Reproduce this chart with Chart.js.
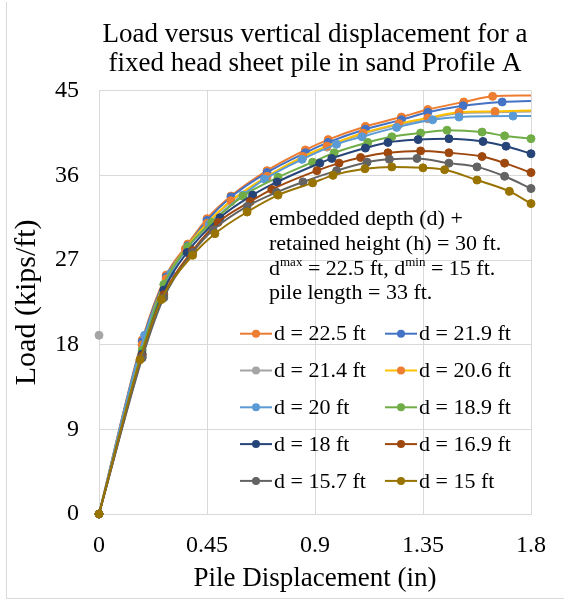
<!DOCTYPE html>
<html>
<head>
<meta charset="utf-8">
<script src="https://cdn.jsdelivr.net/npm/chart.js@4/dist/chart.umd.min.js"></script>
<style>
    body { margin: 0; background: #fff; }
    #wrap { position: relative; width: 564px; height: 604px; overflow: hidden; }
    #frame { position: absolute; left: 6px; top: 2px; width: 600px; height: 596px;
             border-left: 1px solid #D9D9D9; border-bottom: 1px solid #D9D9D9; }
    canvas { position: absolute; left: 0; top: 0; }
</style>
</head>
<body>
<div id="wrap">
    <div id="frame"></div>
    <canvas id="chart" width="564" height="604"></canvas>
</div>
<script>
// Chart data
const seriesLabels = ['d = 22.5 ft', 'd = 21.9 ft', 'd = 21.4 ft', 'd = 20.6 ft', 'd = 20 ft',
                      'd = 18.9 ft', 'd = 18 ft', 'd = 16.9 ft', 'd = 15.7 ft', 'd = 15 ft'];

const x_22_5 = [0, 0.18, 0.28, 0.37, 0.45, 0.55, 0.70, 0.86, 0.955, 1.11, 1.26, 1.37, 1.52, 1.64, 1.8];
const y_22_5 = [0, 18.5, 25.4, 28.7, 31.4, 33.8, 36.5, 38.7, 39.8, 41.2, 42.2, 43.0, 43.8, 44.4, 44.5];

const x_21_9 = [0, 0.18, 0.28, 0.37, 0.45, 0.55, 0.70, 0.86, 0.955, 1.11, 1.26, 1.37, 1.517, 1.68, 1.8];
const y_21_9 = [0, 18.3, 25.2, 28.5, 31.2, 33.7, 36.3, 38.4, 39.5, 40.9, 41.9, 42.7, 43.4, 43.8, 43.9];

const x_21_4 = [0, 0.09, 0.18, 0.28, 0.36, 0.45, 0.55, 0.70, 0.85, 0.95, 1.10, 1.25, 1.37, 1.50, 1.65, 1.8];
const y_21_4 = [19, null, 17.9, 24.9, 28.1, 30.8, 33.2, 35.8, 37.9, 39.0, 40.4, 41.4, 42.0, 42.6, 42.7, 42.8];

const x_20_6 = [0, 0.18, 0.28, 0.36, 0.45, 0.55, 0.70, 0.85, 0.95, 1.10, 1.25, 1.37, 1.50, 1.65, 1.8];
const y_20_6 = [0, 18.0, 25.0, 28.2, 30.9, 33.3, 35.9, 38.0, 39.1, 40.5, 41.5, 42.1, 42.7, 42.8, 42.9];

const x_20 = [0, 0.19, 0.30, 0.37, 0.46, 0.60, 0.69, 0.846, 0.99, 1.096, 1.24, 1.39, 1.50, 1.725, 1.8];
const y_20 = [0, 19.0, 25.6, 28.3, 30.8, 33.9, 35.6, 37.7, 39.3, 40.1, 41.1, 41.9, 42.2, 42.3, 42.3];

const x_18_9 = [0, 0.18, 0.27, 0.37, 0.47, 0.60, 0.746, 0.89, 0.98, 1.12, 1.22, 1.34, 1.45, 1.596, 1.69, 1.8];
const y_18_9 = [0, 17.4, 24.4, 28.4, 31.0, 33.8, 35.8, 37.4, 38.4, 39.5, 40.1, 40.5, 40.8, 40.6, 40.2, 39.9];

const x_18 = [0, 0.18, 0.27, 0.367, 0.504, 0.64, 0.742, 0.92, 0.97, 1.11, 1.204, 1.33, 1.458, 1.6, 1.696, 1.8];
const y_18 = [0, 17.0, 23.8, 27.8, 31.5, 33.9, 35.3, 37.3, 37.8, 38.9, 39.5, 39.8, 39.9, 39.6, 39.1, 38.3];

const x_16_9 = [0, 0.18, 0.27, 0.39, 0.496, 0.63, 0.72, 0.908, 1.0, 1.09, 1.204, 1.34, 1.458, 1.596, 1.69, 1.8];
const y_16_9 = [0, 16.8, 23.3, 28.0, 31.0, 33.2, 34.5, 36.5, 37.3, 37.9, 38.4, 38.6, 38.4, 38.0, 37.3, 36.3];

const x_15_7 = [0, 0.18, 0.27, 0.39, 0.475, 0.617, 0.74, 0.85, 0.99, 1.117, 1.21, 1.325, 1.458, 1.575, 1.69, 1.8];
const y_15_7 = [0, 16.6, 23.0, 27.8, 30.2, 32.7, 34.2, 35.3, 36.5, 37.4, 37.7, 37.8, 37.3, 36.9, 35.9, 34.6];

const x_15 = [0, 0.171, 0.26, 0.39, 0.483, 0.617, 0.746, 0.89, 0.975, 1.108, 1.22, 1.35, 1.44, 1.575, 1.71, 1.8];
const y_15 = [0, 16.4, 22.8, 27.5, 29.8, 32.1, 33.9, 35.2, 36.0, 36.7, 36.9, 36.8, 36.6, 35.5, 34.3, 33.0];

const xTicks = [0, 0.45, 0.9, 1.35, 1.8];
const yTicks = [0, 9, 18, 27, 36, 45];

const xSeries = [x_22_5, x_21_9, x_21_4, x_20_6, x_20, x_18_9, x_18, x_16_9, x_15_7, x_15];
const ySeries = [y_22_5, y_21_9, y_21_4, y_20_6, y_20, y_18_9, y_18, y_16_9, y_15_7, y_15];

// Styles
const lineColors = ['#ED7D31', '#4472C4', '#A5A5A5', '#FFC000', '#5B9BD5',
                    '#70AD47', '#264478', '#9E480E', '#636363', '#997300'];
const markerColors = ['#ED7D31', '#4472C4', '#A5A5A5', '#ED7D31', '#5B9BD5',
                      '#70AD47', '#264478', '#9E480E', '#636363', '#997300'];
// series whose curve runs on past the axis end (no marker at the right edge)
const openEnd = [true, true, true, true, true, false, false, false, false, false];
const FONT = "'Liberation Serif', 'Times New Roman', serif";

const datasets = seriesLabels.map((label, i) => ({
    label: label,
    data: xSeries[i].map((x, j) => ({ x: x, y: ySeries[i][j] })),
    borderColor: lineColors[i],
    backgroundColor: markerColors[i],
    pointBackgroundColor: markerColors[i],
    pointBorderColor: markerColors[i],
    borderWidth: 2,
    pointRadius: (ctx) => (openEnd[i] && ctx.dataIndex === xSeries[i].length - 1) ? 0 : 4,
    pointBorderWidth: 1,
    cubicInterpolationMode: 'monotone',
    spanGaps: false,
    clip: false,
    order: seriesLabels.length - i   // later series drawn on top, like Excel
}));

// Annotation text + legend drawn inside the plot area
const notesPlugin = {
    id: 'notes',
    afterDraw(chart) {
        const ctx = chart.ctx;
        const area = chart.chartArea;
        ctx.save();
        ctx.fillStyle = '#000';
        ctx.textBaseline = 'alphabetic';
        ctx.textAlign = 'left';
        const big = '22px ' + FONT;
        const small = '13px ' + FONT;
        const tx = area.left + 170;
        ctx.font = big;
        ctx.fillText('embedded depth (d) +', tx, area.top + 134);
        ctx.fillText('retained height (h) = 30 ft.', tx, area.top + 159);
        // d^max = 22.5 ft, d^min = 15 ft.
        let x = tx;
        const y3 = area.top + 184;
        const parts = [['d', big, 0], ['max', small, -9], [' = 22.5 ft, d', big, 0], ['min', small, -9], [' = 15 ft.', big, 0]];
        parts.forEach(([t, f, dy]) => {
            ctx.font = f;
            ctx.fillText(t, x, y3 + dy);
            x += ctx.measureText(t).width;
        });
        ctx.font = big;
        ctx.fillText('pile length = 33 ft.', tx, area.top + 208);

        // legend, two columns
        ctx.textBaseline = 'middle';
        chart.data.datasets.forEach((ds, i) => {
            const col = i % 2;
            const row = Math.floor(i / 2);
            const lx = area.left + 141 + col * 145;
            const ly = area.top + 243 + row * 36.8;
            ctx.strokeStyle = ds.borderColor;
            ctx.lineWidth = 2;
            ctx.beginPath();
            ctx.moveTo(lx, ly);
            ctx.lineTo(lx + 32, ly);
            ctx.stroke();
            ctx.fillStyle = ds.pointBackgroundColor;
            ctx.beginPath();
            ctx.arc(lx + 16, ly, 4, 0, Math.PI * 2);
            ctx.fill();
            ctx.fillStyle = '#000';
            ctx.font = big;
            ctx.fillText(ds.label, lx + 34, ly + 1);
        });
        ctx.restore();
    }
};

new Chart(document.getElementById('chart'), {
    type: 'line',
    data: { datasets: datasets },
    plugins: [notesPlugin],
    options: {
        responsive: false,
        animation: false,
        layout: { padding: { left: 0, right: 33, top: 0, bottom: 0 } },
        plugins: {
            legend: { display: false },
            tooltip: { enabled: false },
            title: {
                display: true,
                fullSize: false,
                text: ['Load versus vertical displacement for a', 'fixed head sheet pile in sand Profile A'],
                color: '#000',
                font: { family: FONT, size: 27, weight: 'normal', lineHeight: 1.05 },
                padding: { top: 21, bottom: 13 }
            }
        },
        scales: {
            x: {
                type: 'linear',
                min: 0,
                max: 1.8,
                afterBuildTicks: (scale) => { scale.ticks = xTicks.map(v => ({ value: v })); },
                afterFit: (scale) => { scale.height = 90; },
                grid: { color: '#D9D9D9', drawTicks: false },
                border: { color: '#D9D9D9' },
                ticks: {
                    color: '#000',
                    padding: 17,
                    font: { family: FONT, size: 24 },
                    callback: (v) => String(v)
                },
                title: {
                    display: true,
                    text: 'Pile Displacement (in)',
                    color: '#000',
                    font: { family: FONT, size: 27 },
                    padding: { top: 0, bottom: 9 }
                }
            },
            y: {
                type: 'linear',
                min: 0,
                max: 45,
                afterBuildTicks: (scale) => { scale.ticks = yTicks.map(v => ({ value: v })); },
                afterFit: (scale) => { scale.width = 99; },
                grid: { color: '#D9D9D9', drawTicks: false },
                border: { color: '#D9D9D9' },
                ticks: {
                    color: '#000',
                    padding: 20,
                    font: { family: FONT, size: 24 },
                    callback: (v) => String(v)
                },
                title: {
                    display: true,
                    text: 'Load (kips/ft)',
                    color: '#000',
                    font: { family: FONT, size: 30 },
                    padding: { top: 9, bottom: 0 }
                }
            }
        }
    }
});
</script>
</body>
</html>
